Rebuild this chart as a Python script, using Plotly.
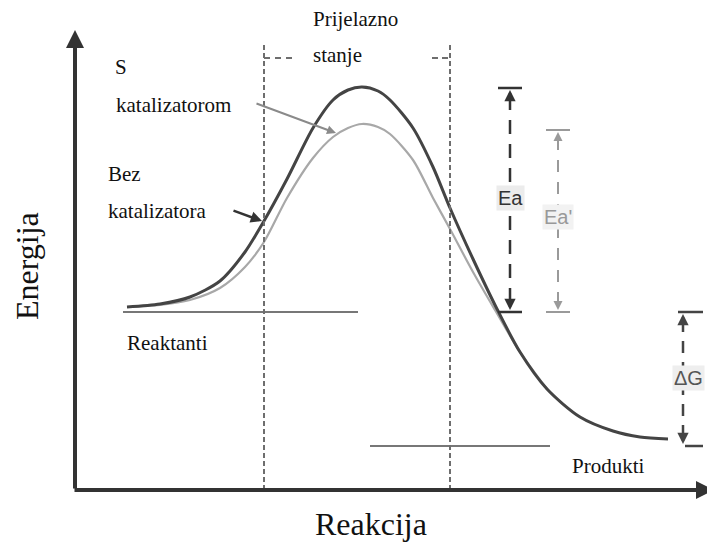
import plotly.graph_objects as go

H = 545  # canvas height used to express energy upward
PAGE_OFFSET = 8  # default body margin of the html page

# Reaction coordinate and energy (energy measured upward) for the two paths
x_uncat = [127, 160, 190, 220, 245, 264, 287, 313, 333, 348, 362, 378, 390, 413, 433, 450,
           473, 497, 520, 547, 580, 613, 640, 668]
e_uncat_px = [307, 304, 297, 281, 252, 221, 179, 128, 100, 90, 87, 91, 100, 128, 167, 208,
              259, 309, 352, 389, 417, 431, 437, 439]
x_cat = [127, 160, 190, 220, 245, 264, 287, 313, 333, 348, 362, 378, 390, 413, 433, 450,
         473, 495, 520, 547]
e_cat_px = [307, 305, 300, 288, 267, 242, 198, 158, 137, 128, 124, 127, 134, 160, 198, 229,
            272, 310, 352, 389]
e_uncat = [H - v for v in e_uncat_px]
e_cat = [H - v for v in e_cat_px]

# Levels
reactant_level = H - 312
product_level = H - 446
peak_uncat = H - 88
peak_cat = H - 130
reactant_x = [123, 358]
product_x = [370, 550]
ts_x = [264, 450]

labels_serif = ["Prijelazno", "stanje", "S", "katalizatorom", "Bez", "katalizatora", "Reaktanti", "Produkti"]

fig = go.Figure()
fig.add_trace(go.Scatter(x=x_cat, y=e_cat, mode="lines", line=dict(color="#a8a8a8", width=2.2, shape="spline", smoothing=0.8),
                         hoverinfo="skip", showlegend=False))
fig.add_trace(go.Scatter(x=x_uncat, y=e_uncat, mode="lines", line=dict(color="#444444", width=3, shape="spline", smoothing=0.8),
                         hoverinfo="skip", showlegend=False))
fig.add_trace(go.Scatter(x=reactant_x, y=[reactant_level]*2, mode="lines", line=dict(color="#777777", width=2),
                         hoverinfo="skip", showlegend=False))
fig.add_trace(go.Scatter(x=product_x, y=[product_level]*2, mode="lines", line=dict(color="#777777", width=2),
                         hoverinfo="skip", showlegend=False))

shapes = []
# transition state dashed verticals
for xv in ts_x:
    shapes.append(dict(type="line", x0=xv, x1=xv, y0=H-45, y1=H-490, line=dict(color="#6e6e6e", width=2, dash="5px,3px")))
shapes.append(dict(type="line", x0=ts_x[0], x1=ts_x[0]+28, y0=H-58, y1=H-58, line=dict(color="#6e6e6e", width=2, dash="6px,5px")))
shapes.append(dict(type="line", x0=ts_x[1]-18, x1=ts_x[1], y0=H-58, y1=H-58, line=dict(color="#6e6e6e", width=2, dash="6px,4px")))

# Ea
ea_x, eap_x, dg_x = 510, 558, 683
shapes.append(dict(type="line", x0=ea_x-12, x1=ea_x+12, y0=peak_uncat, y1=peak_uncat, line=dict(color="#333", width=2.5)))
shapes.append(dict(type="line", x0=ea_x-12, x1=ea_x+12, y0=reactant_level, y1=reactant_level, line=dict(color="#333", width=2.5)))
shapes.append(dict(type="line", x0=ea_x, x1=ea_x, y0=peak_uncat-8, y1=reactant_level+6, line=dict(color="#333", width=2.5, dash="14px,10px")))
# Ea'
shapes.append(dict(type="line", x0=eap_x-12, x1=eap_x+12, y0=peak_cat, y1=peak_cat, line=dict(color="#9a9a9a", width=2)))
shapes.append(dict(type="line", x0=eap_x-12, x1=eap_x+12, y0=reactant_level, y1=reactant_level, line=dict(color="#9a9a9a", width=2)))
shapes.append(dict(type="line", x0=eap_x, x1=eap_x, y0=peak_cat-8, y1=reactant_level+6, line=dict(color="#9a9a9a", width=2, dash="12px,10px")))
# dG
shapes.append(dict(type="line", x0=dg_x-5, x1=dg_x+20, y0=reactant_level, y1=reactant_level, line=dict(color="#444", width=2.5)))
shapes.append(dict(type="line", x0=dg_x+2, x1=dg_x+20, y0=product_level, y1=product_level, line=dict(color="#444", width=2.5)))
shapes.append(dict(type="line", x0=dg_x, x1=dg_x, y0=reactant_level-8, y1=product_level+6, line=dict(color="#444", width=2.5, dash="12px,9px")))

ann = []
def arrow(x0, y0, x1, y1, color, width=2, size=1.0, head=2):
    ann.append(dict(x=x1, y=y1, ax=x0, ay=y0, xref="x", yref="y", axref="x", ayref="y", text="",
                    showarrow=True, arrowhead=head, arrowsize=size, arrowwidth=width, arrowcolor=color, standoff=0))

# axes arrows
arrow(75, H-490, 75, H-30, "#333", width=4, size=0.9)
arrow(73, H-490, 714, H-490, "#333", width=4, size=0.9)
# Ea arrows heads
arrow(ea_x, peak_uncat-14, ea_x, peak_uncat-2, "#333", width=2.5, size=0.9)
arrow(ea_x, reactant_level+14, ea_x, reactant_level+2, "#333", width=2.5, size=0.9)
arrow(eap_x, peak_cat-14, eap_x, peak_cat-2, "#9a9a9a", width=2, size=0.9)
arrow(eap_x, reactant_level+14, eap_x, reactant_level+2, "#9a9a9a", width=2, size=0.9)
arrow(dg_x, reactant_level-14, dg_x, reactant_level-2, "#444", width=2.5, size=0.9)
arrow(dg_x, product_level+14, dg_x, product_level+2, "#444", width=2.5, size=0.9)
# pointer arrows
arrow(232, H-210, 262, H-221, "#333", width=2.5, size=0.9)
arrow(255, H-103, 336, H-133, "#8a8a8a", width=2, size=0.9)

serif = "Liberation Serif, Times New Roman, serif"
sans = "Liberation Sans, Arial, sans-serif"
def text(t, x, y, size=21, anchor="left", color="#111", font=serif, bg=None, angle=0):
    d = dict(x=x, y=H-y, xref="x", yref="y", text=t, showarrow=False, xanchor=anchor, yanchor="middle",
             font=dict(family=font, size=size, color=color), textangle=angle)
    if bg:
        d["bgcolor"] = bg
        d["borderpad"] = 1
    ann.append(d)

text(labels_serif[0], 311, 19)
text(labels_serif[1], 311, 55)
text(labels_serif[2], 113, 67, size=21)
text(labels_serif[3], 114, 105)
text(labels_serif[4], 106, 174)
text(labels_serif[5], 106, 211)
text(labels_serif[6], 125, 343)
text(labels_serif[7], 570, 466)
text("Ea", ea_x, 198, size=20, anchor="center", color="#333", font=sans, bg="#ececec")
text("Ea'", eap_x, 217, size=20, anchor="center", color="#999", font=sans, bg="#f2f2f2")
text("ΔG", dg_x + 5, 378, size=20, anchor="center", color="#555", font=sans, bg="#eeeeee")
text("Energija", 27, 266, size=32, anchor="center", angle=-90)
text("Reakcija", 371, 524, size=32, anchor="center")

fig.update_layout(
    width=715, height=545, margin=dict(l=0, r=0, t=0, b=0),
    paper_bgcolor="white", plot_bgcolor="white",
    xaxis=dict(range=[PAGE_OFFSET, 715 + PAGE_OFFSET], visible=False, fixedrange=True),
    yaxis=dict(range=[-PAGE_OFFSET, 545 - PAGE_OFFSET], visible=False, fixedrange=True),
    shapes=shapes, annotations=ann,
)
fig.write_html("out.html")
